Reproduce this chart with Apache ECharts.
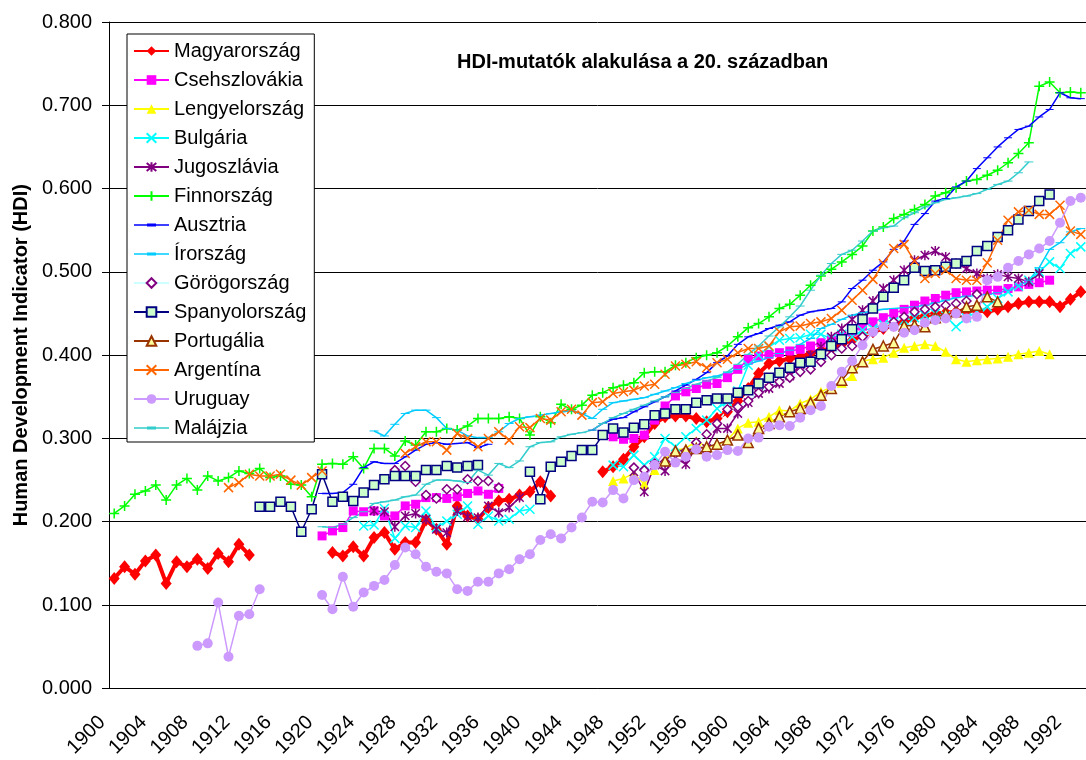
<!DOCTYPE html>
<html>
<head>
<meta charset="utf-8">
<title>HDI-mutatók alakulása a 20. században</title>
<script src="https://cdn.jsdelivr.net/npm/echarts@6/dist/echarts.min.js"></script>
<style>
  html, body { margin: 0; padding: 0; background: #fff; }
  #chart { width: 1086px; height: 760px; }
</style>
</head>
<body>
<div id="chart"></div>
<script>
// years on the category axis
const firstYear = 1900;
const lastYear = 1993;
const years = [];
for (let y = firstYear; y <= lastYear; y++) years.push(String(y));

// each series: first year + values (null = gap)
const magyarorszagStart = 1900;
const magyarorszag = [
  0.132, 0.146, 0.137, 0.153, 0.160, 0.126, 0.152, 0.146, 0.155, 0.144,
  0.162, 0.152, 0.173, 0.160, null, null, null, null, null, null,
  null, 0.163, 0.159, 0.170, 0.159, 0.181, 0.187, 0.167, 0.175, 0.175,
  0.202, 0.191, 0.173, 0.219, 0.207, 0.203, 0.217, 0.225, 0.227, 0.232,
  0.236, 0.248, 0.231, null, null, null, null, 0.260, 0.266, 0.275,
  0.290, 0.302, 0.318, 0.326, 0.327, 0.327, 0.324, 0.320, 0.324, 0.332,
  0.345, 0.360, 0.378, 0.390, 0.393, 0.396, 0.398, 0.402, 0.406, 0.408,
  0.413, 0.418, 0.423, 0.428, 0.432, 0.436, 0.440, 0.445, 0.447, 0.450,
  0.451, 0.452, 0.453, 0.454, 0.452, 0.455, 0.458, 0.462, 0.464, 0.464,
  0.464, 0.458, 0.467, 0.476
];

const csehszlovakiaStart = 1920;
const csehszlovakia = [
  0.183, 0.189, 0.193, 0.213, 0.212, 0.213, 0.207, 0.207, 0.219, 0.221,
  0.229, 0.229, 0.228, 0.230, 0.234, 0.237, 0.233, 0.240, null, null,
  null, null, null, null, null, null, null, null, 0.302, 0.299,
  0.300, 0.304, 0.322, 0.339, 0.351, 0.356, 0.360, 0.365, 0.366, 0.373,
  0.383, 0.395, 0.399, 0.401, 0.403, 0.405, 0.407, 0.411, 0.415, 0.418,
  0.422, 0.428, 0.435, 0.440, 0.445, 0.450, 0.455, 0.460, 0.465, 0.468,
  0.472, 0.475, 0.476, 0.477, 0.478, 0.478, 0.480, 0.482, 0.485, 0.487,
  0.490
];

const lengyelorszagStart = 1948;
const lengyelorszag = [
  0.249, 0.252, 0.258, 0.245, 0.262, 0.275, 0.286, 0.288, 0.297, 0.290,
  0.292, 0.298, 0.312, 0.319, 0.320, 0.326, 0.334, 0.333, 0.342, 0.347,
  0.356, 0.362, 0.367, 0.375, 0.393, 0.395, 0.397, 0.403, 0.409, 0.411,
  0.413, 0.411, 0.404, 0.395, 0.392, 0.394, 0.395, 0.396, 0.398, 0.401,
  0.403, 0.405, 0.401
];

const bulgariaStart = 1924;
const bulgaria = [
  0.195, 0.196, 0.216, 0.180, 0.195, 0.193, 0.213, 0.193, 0.201, 0.209,
  0.219, 0.197, 0.207, 0.201, 0.203, 0.213, 0.215, null, null, null,
  null, null, null, null, 0.268, 0.266, 0.280, 0.268, 0.278, 0.300,
  0.290, 0.302, 0.312, 0.322, 0.336, 0.344, 0.357, 0.388, 0.400, 0.410,
  0.418, 0.420, 0.421, 0.425, 0.425, 0.420, 0.425, 0.422, 0.430, 0.432,
  0.437, 0.440, 0.442, 0.445, 0.448, 0.450, 0.447, 0.434, 0.445, 0.452,
  0.458, 0.468, 0.476, 0.483, 0.490, 0.500, 0.512, 0.504, 0.522, 0.530
];

const jugoszlaviaStart = 1925;
const jugoszlavia = [
  0.213, 0.212, 0.194, 0.207, 0.210, 0.203, 0.191, 0.187, 0.213, 0.206,
  0.205, 0.219, 0.211, 0.217, 0.229, null, null, null, null, null,
  null, null, null, null, null, 0.260, 0.236, 0.268, 0.261, 0.277,
  0.269, 0.290, 0.288, 0.312, 0.312, 0.330, 0.343, 0.354, 0.360, 0.366,
  0.375, 0.388, 0.400, 0.410, 0.422, 0.432, 0.443, 0.454, 0.465, 0.480,
  0.490, 0.502, 0.514, 0.520, 0.525, 0.518, 0.510, 0.504, 0.498, 0.492,
  0.497, 0.494, 0.492, 0.488, 0.498
];

const finnorszagStart = 1900;
const finnorszag = [
  0.210, 0.219, 0.233, 0.237, 0.244, 0.226, 0.244, 0.252, 0.238, 0.255,
  0.249, 0.253, 0.261, 0.258, 0.264, 0.253, 0.255, 0.245, 0.244, 0.230,
  0.269, 0.270, 0.269, 0.278, 0.264, 0.288, 0.288, 0.279, 0.297, 0.292,
  0.308, 0.308, 0.312, 0.310, 0.315, 0.324, 0.324, 0.324, 0.326, 0.324,
  0.304, 0.326, 0.319, 0.341, 0.335, 0.340, 0.352, 0.355, 0.361, 0.364,
  0.367, 0.379, 0.380, 0.380, 0.388, 0.391, 0.397, 0.400, 0.403, 0.411,
  0.422, 0.433, 0.438, 0.446, 0.456, 0.461, 0.472, 0.484, 0.495, 0.503,
  0.512, 0.521, 0.531, 0.549, 0.554, 0.564, 0.569, 0.575, 0.581, 0.591,
  0.595, 0.601, 0.609, 0.611, 0.616, 0.622, 0.631, 0.642, 0.655, 0.723,
  0.728, 0.715, 0.716, 0.715
];

const ausztriaStart = 1920;
const ausztria = [
  0.234, 0.234, 0.235, 0.245, 0.265, 0.272, 0.270, 0.270, 0.278, 0.286,
  0.293, 0.295, 0.293, 0.294, 0.295, 0.289, 0.293, null, null, null,
  null, null, null, null, null, null, 0.310, 0.318, 0.323, 0.325,
  0.332, 0.338, 0.344, 0.350, 0.357, 0.364, 0.371, 0.379, 0.391, 0.399,
  0.413, 0.422, 0.426, 0.432, 0.436, 0.440, 0.448, 0.452, 0.454, 0.456,
  0.464, 0.480, 0.490, 0.502, 0.512, 0.527, 0.537, 0.557, 0.570, 0.585,
  0.588, 0.602, 0.609, 0.624, 0.637, 0.650, 0.661, 0.671, 0.675, 0.686,
  0.695, 0.715, 0.709, 0.708
];

const irorszagStart = 1925;
const irorszag = [
  0.309, 0.303, 0.317, 0.330, 0.334, 0.334, 0.325, 0.312, 0.310, 0.303,
  0.301, 0.301, 0.308, 0.318, 0.324, 0.326, 0.328, 0.330, 0.332, 0.333,
  0.330, 0.324, 0.335, 0.343, 0.345, 0.347, 0.349, 0.353, 0.357, 0.361,
  0.366, 0.370, 0.373, 0.375, 0.379, 0.383, 0.389, 0.393, 0.397, 0.402,
  0.406, 0.413, 0.420, 0.432, 0.437, 0.443, 0.448, 0.451, 0.453, 0.455,
  0.456, 0.457, 0.458, 0.460, 0.463, 0.466, 0.469, 0.471, 0.471, 0.473,
  0.475, 0.478, 0.484, 0.490, 0.505, 0.527, 0.535, 0.548, 0.552
];

const gorogorszagStart = 1927;
const gorogorszag = [
  0.262, 0.267, 0.248, 0.232, 0.228, 0.239, 0.239, 0.251, 0.249, 0.249,
  0.241, null, null, null, null, null, null, null, null, null,
  null, null, null, 0.265, 0.262, 0.270, 0.272, 0.282, 0.285, 0.295,
  0.305, 0.318, 0.335, 0.338, 0.345, 0.355, 0.362, 0.368, 0.373, 0.380,
  0.383, 0.392, 0.400, 0.408, 0.411, 0.422, 0.428, 0.433, 0.440, 0.446,
  0.452, 0.455, 0.458, 0.460, 0.462, 0.465, 0.473
];

const spanyolorszagStart = 1914;
const spanyolorszag = [
  0.218, 0.218, 0.224, 0.218, 0.188, 0.215, 0.257, 0.224, 0.230, 0.225,
  0.235, 0.244, 0.251, 0.255, 0.255, 0.255, 0.262, 0.262, 0.267, 0.265,
  0.267, 0.268, null, null, null, null, 0.260, 0.227, 0.266, 0.272,
  0.279, 0.286, 0.286, 0.304, 0.312, 0.307, 0.313, 0.317, 0.328, 0.330,
  0.335, 0.335, 0.343, 0.346, 0.348, 0.348, 0.355, 0.358, 0.366, 0.373,
  0.379, 0.385, 0.391, 0.392, 0.401, 0.411, 0.419, 0.431, 0.443, 0.456,
  0.470, 0.481, 0.490, 0.505, 0.501, 0.502, 0.506, 0.510, 0.513, 0.525,
  0.531, 0.542, 0.550, 0.563, 0.573, 0.585, 0.593
];

const portugaliaStart = 1953;
const portugalia = [
  0.273, 0.285, 0.286, 0.288, 0.290, 0.293, 0.298, 0.304, 0.295, 0.312,
  0.318, 0.326, 0.332, 0.336, 0.343, 0.352, 0.360, 0.370, 0.385, 0.392,
  0.407, 0.411, 0.415, 0.435, 0.436, 0.434, 0.445, 0.450, 0.452, 0.458,
  0.460, 0.470, 0.464
];

const argentinaStart = 1911;
const argentina = [
  0.241, 0.247, 0.257, 0.255, 0.255, 0.257, 0.250, 0.244, 0.253, 0.261,
  null, null, null, null, null, null, null, 0.282, 0.290, 0.296,
  0.296, 0.286, 0.306, 0.300, 0.290, 0.300, 0.308, 0.298, 0.314, 0.313,
  0.324, 0.322, 0.332, 0.335, 0.328, 0.343, 0.344, 0.354, 0.356, 0.358,
  0.363, 0.365, 0.377, 0.387, 0.389, 0.392, 0.385, 0.391, 0.395, 0.403,
  0.408, 0.408, 0.411, 0.428, 0.434, 0.435, 0.438, 0.440, 0.444, 0.454,
  0.466, 0.478, 0.491, 0.510, 0.528, 0.533, 0.513, 0.492, 0.498, 0.502,
  0.492, 0.490, 0.490, 0.511, 0.538, 0.562, 0.572, 0.574, 0.569, 0.569,
  0.580, 0.549, 0.545
];

const uruguayStart = 1908;
const uruguay = [
  0.051, 0.054, 0.103, 0.038, 0.087, 0.089, 0.119, null, null, null,
  null, null, 0.112, 0.095, 0.134, 0.098, 0.115, 0.123, 0.130, 0.148,
  0.169, 0.161, 0.146, 0.140, 0.138, 0.119, 0.117, 0.128, 0.128, 0.138,
  0.143, 0.155, 0.161, 0.178, 0.185, 0.180, 0.193, 0.205, 0.224, 0.223,
  0.238, 0.228, 0.250, 0.254, 0.268, 0.284, 0.271, 0.278, 0.287, 0.278,
  0.280, 0.286, 0.285, 0.300, 0.301, 0.314, 0.316, 0.315, 0.325, 0.334,
  0.339, 0.363, 0.380, 0.393, 0.412, 0.428, 0.434, 0.434, 0.427, 0.430,
  0.439, 0.442, 0.444, 0.450, 0.444, 0.446, 0.490, 0.494, 0.505, 0.513,
  0.521, 0.528, 0.537, 0.559, 0.585, 0.589
];

const malajziaStart = 1920;
const malajzia = [
  0.194, 0.193, 0.197, 0.205, 0.212, 0.222, 0.224, 0.226, 0.230, 0.232,
  0.245, 0.250, 0.250, 0.249, 0.247, 0.262, 0.256, 0.270, 0.265, 0.273,
  0.290, 0.295, 0.296, 0.302, 0.305, 0.307, 0.310, 0.318, 0.325, 0.330,
  0.335, 0.340, 0.345, 0.350, 0.355, 0.360, 0.365, 0.369, 0.373, 0.380,
  0.389, 0.401, 0.411, 0.423, 0.434, 0.446, 0.459, 0.478, 0.496, 0.510,
  0.521, 0.526, 0.537, 0.549, 0.553, 0.555, 0.565, 0.571, 0.578, 0.583,
  0.587, 0.589, 0.591, 0.594, 0.599, 0.605, 0.609, 0.619, 0.632
];

// place a series on the full year axis
function onAxis(start, values) {
  const out = years.map(() => null);
  values.forEach((v, i) => {
    const idx = start - firstYear + i;
    if (idx >= 0 && idx < out.length) out[idx] = v;
  });
  return out;
}

const FONT = 'Liberation Sans, Arial, sans-serif';
const crossPath = 'path://M0,0L10,10M10,0L0,10';
const starPath = 'path://M0,0L10,10M10,0L0,10M5,-1L5,11';
const plusPath = 'path://M5,0L5,10M0,5L10,5';
const dashPath = 'path://M0,0L9,0L9,3L0,3Z';
// legend icon for the dash-marker series: thin line with a thicker dash in the middle
const dashLegendIcon = 'path://M0,0.75L13,0.75L13,0L22,0L22,0.75L35,0.75L35,2.25L22,2.25L22,3L13,3L13,2.25L0,2.25Z';

function lineSeries(name, start, values, cfg) {
  return {
    name: name,
    type: 'line',
    data: onAxis(start, values),
    showAllSymbol: true,
    symbol: cfg.symbol,
    symbolSize: cfg.size,
    symbolKeepAspect: true,
    connectNulls: false,
    lineStyle: { color: cfg.line, width: cfg.width || 1.5 },
    itemStyle: {
      color: cfg.fill,
      borderColor: cfg.border || cfg.fill,
      borderWidth: cfg.borderWidth || 0
    },
    emphasis: { disabled: true }
  };
}

const seriesList = [
  lineSeries('Magyarország', magyarorszagStart, magyarorszag,
    { symbol: 'diamond', size: [11, 13], line: '#FF0000', fill: '#FF0000', width: 4 }),
  lineSeries('Csehszlovákia', csehszlovakiaStart, csehszlovakia,
    { symbol: 'rect', size: 9, line: '#FF00FF', fill: '#FF00FF' }),
  lineSeries('Lengyelország', lengyelorszagStart, lengyelorszag,
    { symbol: 'triangle', size: 10, line: '#FFFF00', fill: '#FFFF00' }),
  lineSeries('Bulgária', bulgariaStart, bulgaria,
    { symbol: crossPath, size: 9, line: '#00FFFF', fill: '#00FFFF', borderWidth: 1.5 }),
  lineSeries('Jugoszlávia', jugoszlaviaStart, jugoszlavia,
    { symbol: starPath, size: 10, line: '#800080', fill: '#800080', borderWidth: 1.5 }),
  lineSeries('Finnország', finnorszagStart, finnorszag,
    { symbol: plusPath, size: 10, line: '#00FF00', fill: '#00FF00', borderWidth: 1.5 }),
  lineSeries('Ausztria', ausztriaStart, ausztria,
    { symbol: dashPath, size: [8, 3], line: '#0000FF', fill: '#0000FF' }),
  lineSeries('Írország', irorszagStart, irorszag,
    { symbol: dashPath, size: [9, 3], line: '#00CCFF', fill: '#00CCFF' }),
  lineSeries('Görögország', gorogorszagStart, gorogorszag,
    { symbol: 'diamond', size: 9, line: '#CCFFFF', fill: '#FFFFFF', border: '#800080', borderWidth: 1.5 }),
  lineSeries('Spanyolország', spanyolorszagStart, spanyolorszag,
    { symbol: 'rect', size: 9, line: '#000080', fill: '#CCFFCC', border: '#000080', borderWidth: 1.5 }),
  lineSeries('Portugália', portugaliaStart, portugalia,
    { symbol: 'triangle', size: 10, line: '#993300', fill: '#FFFF99', border: '#993300', borderWidth: 1.5 }),
  lineSeries('Argentína', argentinaStart, argentina,
    { symbol: crossPath, size: 9, line: '#FF6600', fill: '#FF6600', borderWidth: 1.5 }),
  lineSeries('Uruguay', uruguayStart, uruguay,
    { symbol: 'circle', size: 10, line: '#CC99FF', fill: '#CC99FF' }),
  lineSeries('Malájzia', malajziaStart, malajzia,
    { symbol: dashPath, size: [9, 3], line: '#33CCCC', fill: '#33CCCC' })
];

const dashSeries = ['Ausztria', 'Írország', 'Malájzia'];
const legendData = seriesList.map(s =>
  dashSeries.includes(s.name) ? { name: s.name, icon: dashLegendIcon } : { name: s.name }
);

const chart = echarts.init(document.getElementById('chart'), null, { renderer: 'canvas' });

const option = {
  animation: false,
  backgroundColor: '#FFFFFF',
  textStyle: { fontFamily: FONT },
  title: {
    text: 'HDI-mutatók alakulása a 20. században',
    left: 457,
    top: 52,
    padding: 0,
    textStyle: { fontFamily: FONT, fontSize: 20, fontWeight: 'bold', color: '#000' }
  },
  legend: {
    orient: 'vertical',
    left: 127,
    top: 34,
    padding: [7, 8, 4, 6],
    itemGap: 9,
    itemWidth: 35,
    itemHeight: 12,
    symbolKeepAspect: true,
    backgroundColor: '#FFFFFF',
    borderColor: '#000000',
    borderWidth: 1,
    borderRadius: 0,
    selectedMode: false,
    textStyle: { fontFamily: FONT, fontSize: 20, color: '#000', lineHeight: 20 },
    data: legendData
  },
  grid: { left: 109, top: 22, width: 984, height: 674, containLabel: false },
  xAxis: {
    type: 'category',
    data: years,
    boundaryGap: true,
    axisLine: { lineStyle: { color: '#000', width: 1 } },
    axisTick: { interval: 0, length: 7, alignWithLabel: false, lineStyle: { color: '#000' } },
    axisLabel: {
      interval: 3,
      rotate: 45,
      margin: 19,
      padding: [0, 17, 0, 0],
      fontFamily: FONT,
      fontSize: 20,
      color: '#000'
    },
    splitLine: { show: false }
  },
  yAxis: {
    type: 'value',
    min: 0,
    max: 0.8,
    interval: 0.1,
    name: 'Human Development Indicator (HDI)',
    nameLocation: 'middle',
    nameRotate: 90,
    nameGap: 72,
    nameTextStyle: { fontFamily: FONT, fontSize: 20, fontWeight: 'bold', color: '#000' },
    axisLine: { show: true, lineStyle: { color: '#000', width: 1 } },
    axisTick: { show: true, length: 7, lineStyle: { color: '#000' } },
    axisLabel: {
      margin: 17,
      fontFamily: FONT,
      fontSize: 20,
      color: '#000',
      formatter: v => v.toFixed(3)
    },
    splitLine: { show: true, lineStyle: { color: '#000', width: 1 } }
  },
  series: seriesList
};

chart.setOption(option);
</script>
</body>
</html>
